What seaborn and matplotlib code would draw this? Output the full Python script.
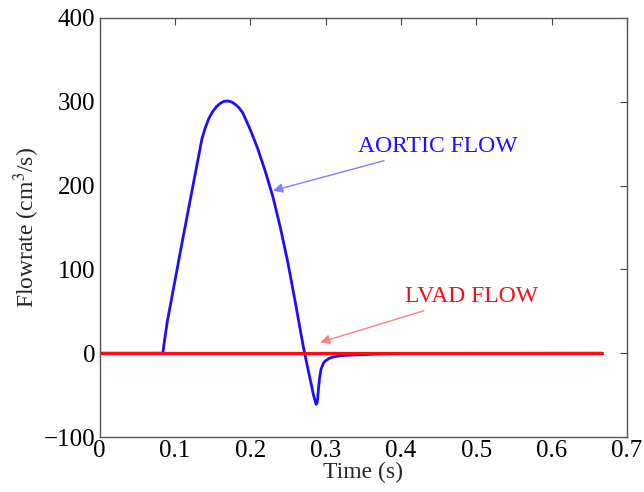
import numpy as np
import pandas as pd
import matplotlib
matplotlib.use("Agg")
import matplotlib.pyplot as plt
import seaborn as sns

# Aortic flow over one cardiac cycle (s, cm^3/s)
aortic_time = [0.0, 0.084, 0.0855, 0.09, 0.10, 0.11, 0.12, 0.13, 0.136, 0.14,
               0.145, 0.15, 0.155, 0.16, 0.165, 0.17, 0.175, 0.18, 0.185, 0.19,
               0.20, 0.21, 0.22, 0.23, 0.24, 0.25, 0.26, 0.27, 0.275, 0.28,
               0.284, 0.2865, 0.2875, 0.2885, 0.2895, 0.2905, 0.292, 0.294, 0.297, 0.30,
               0.305, 0.31, 0.32, 0.34, 0.37, 0.40, 0.667]
aortic_flow = [0, 0, 10, 38, 86, 134, 181, 228, 256, 268,
               280, 288, 294, 298, 300.5, 301, 300, 297, 293, 287,
               267, 244, 217, 187, 150, 108, 60, 10, -12, -33,
               -50, -58, -61, -60, -54, -43, -30, -19, -12, -9,
               -6, -4.5, -3, -2, -1, -0.3, 0]

# LVAD flow (constant zero)
lvad_time = [0.0, 0.667]
lvad_flow = [0, 0]

x_ticks = [0, 0.1, 0.2, 0.3, 0.4, 0.5, 0.6, 0.7]
y_ticks = [-100, 0, 100, 200, 300, 400]

sns.set_style("white")
plt.rcParams["font.family"] = ["Liberation Serif", "DejaVu Serif"]
plt.rcParams["mathtext.fontset"] = "stix"

fig = plt.figure(figsize=(6.44, 4.92), dpi=100)
ax = fig.add_axes([99.5 / 644, 1 - 437 / 492, (627 - 99.5) / 644, (437 - 18) / 492])

aortic = pd.DataFrame({"t": aortic_time, "q": aortic_flow})
lvad = pd.DataFrame({"t": lvad_time, "q": lvad_flow})

sns.lineplot(data=aortic, x="t", y="q", ax=ax, color="#1a10ff", linewidth=2.0,
             sort=False, estimator=None)
sns.lineplot(data=lvad, x="t", y="q", ax=ax, color="#ff0a10", linewidth=2.3,
             sort=False, estimator=None)
for ln in ax.get_lines():
    ln.set_solid_joinstyle("round")
    ln.set_solid_capstyle("round")

ax.set_xlim(0, 0.7)
ax.set_ylim(-100, 400)
ax.set_xticks(x_ticks)
ax.set_xticklabels(["0"] + [f"{v:.1f}" for v in x_ticks[1:]])
ax.set_yticks(y_ticks)
ax.set_yticklabels([f"{v}".replace("-", "\u2212") for v in y_ticks])

ax.tick_params(direction="in", length=5, width=0.8, top=True, right=True,
               labelsize=18, colors="#444444", labelcolor="black")
ax.tick_params(axis="x", pad=2)
ax.tick_params(axis="y", pad=3)
for s in ax.spines.values():
    s.set_color("#555555")
    s.set_linewidth(1.0)

ax.set_xlabel("Time (s)", fontsize=17, labelpad=0)
ax.set_ylabel("Flowrate (cm$^3$/s)", fontsize=17, labelpad=1)

ax.annotate("AORTIC FLOW", xy=(0.2304, 194), xytext=(0.343, 247),
            fontsize=17, color="#1a10ff", va="center", ha="left",
            arrowprops=dict(arrowstyle="-|>", color="#8080ff", lw=1.0,
                            shrinkA=2, shrinkB=0, mutation_scale=14))
ax.annotate("LVAD FLOW", xy=(0.293, 13), xytext=(0.4057, 68),
            fontsize=17, color="#ff0a10", va="center", ha="left",
            arrowprops=dict(arrowstyle="-|>", color="#ff8080", lw=1.0,
                            shrinkA=2, shrinkB=0, mutation_scale=14))

fig.savefig("out.png", dpi=100)
